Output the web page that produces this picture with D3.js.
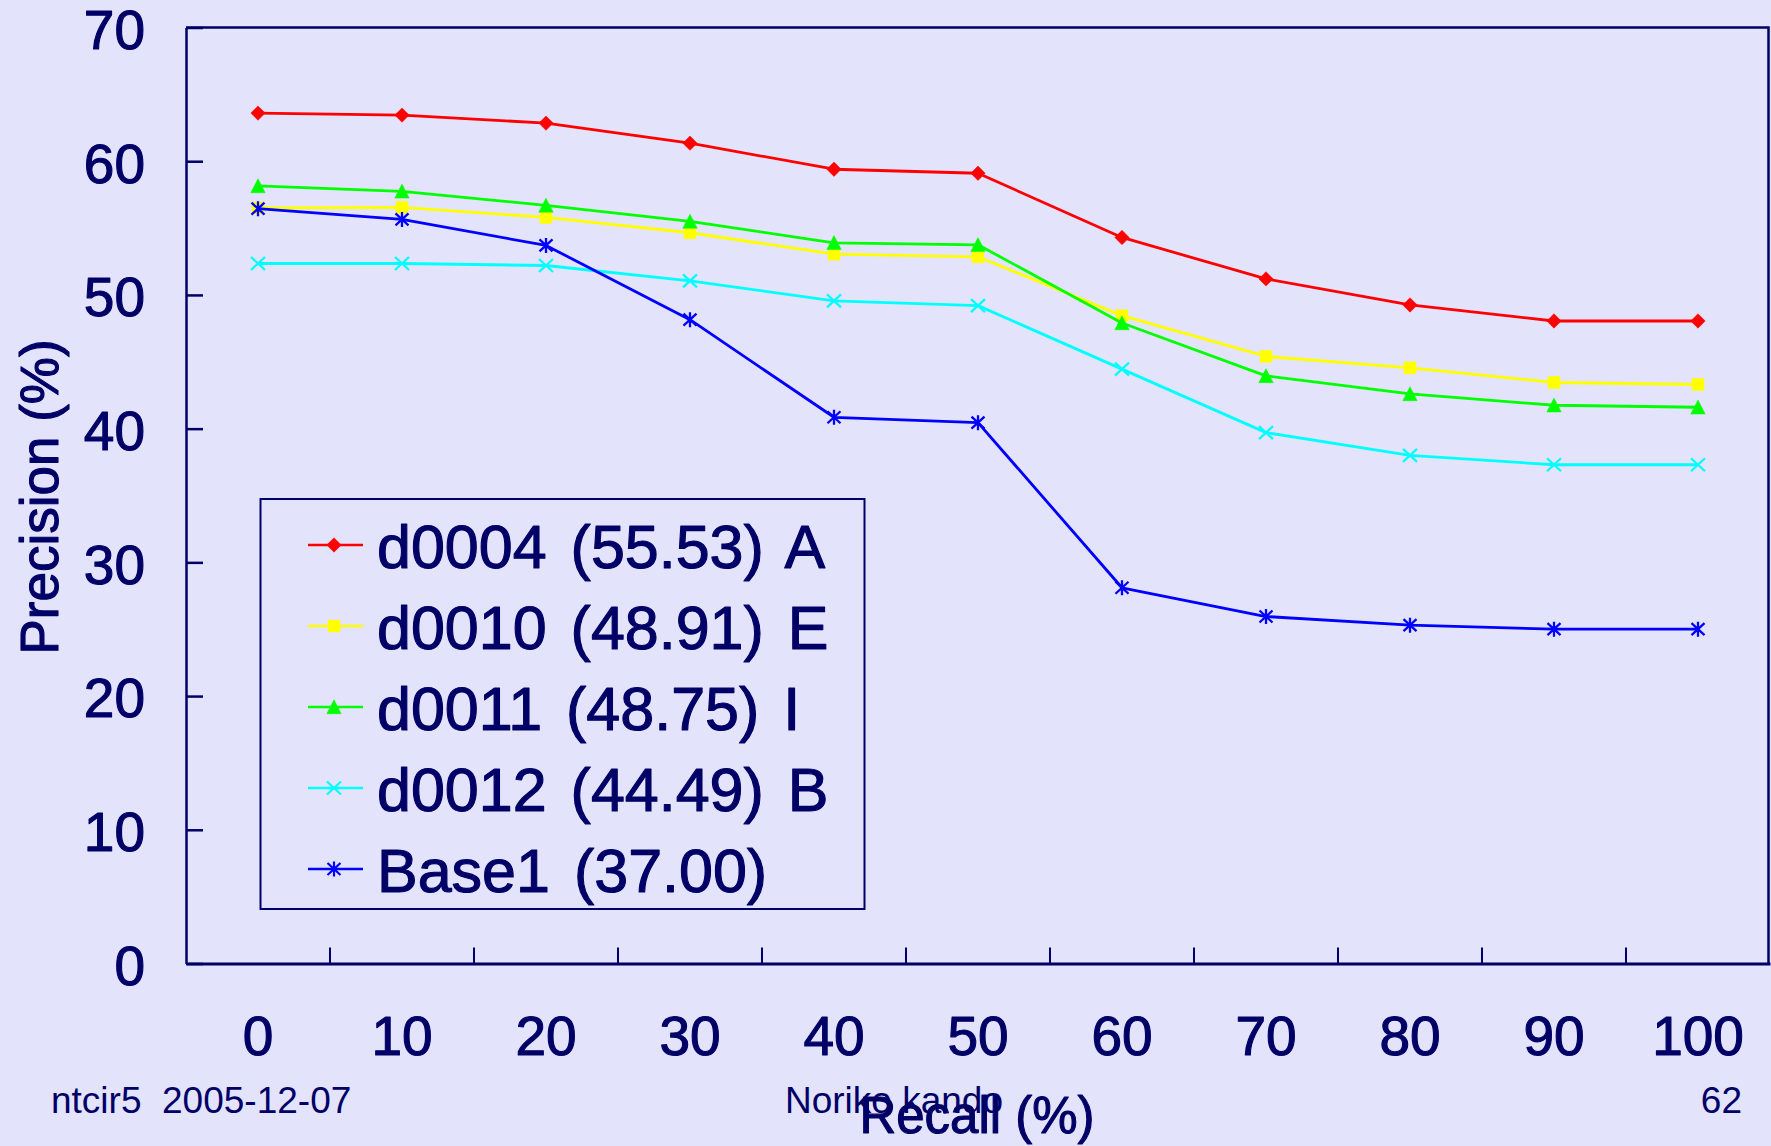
<!DOCTYPE html>
<html>
<head>
<meta charset="utf-8">
<script src="https://cdn.jsdelivr.net/npm/d3@7"></script>
<style>
  html, body { margin: 0; padding: 0; background: #E3E3FC; overflow: hidden; }
  svg { display: block; font-family: "Liberation Sans", Arial, sans-serif; }
</style>
</head>
<body>
<svg id="chart" width="1771" height="1146"></svg>
<script>
// Recall levels (category axis) and precision axis ticks
const recallLevels = [0, 10, 20, 30, 40, 50, 60, 70, 80, 90, 100];
const precisionTicks = [0, 10, 20, 30, 40, 50, 60, 70];

// Interpolated precision (%) at each recall level, one array per run
const d0004 = [63.6, 63.45, 62.85, 61.35, 59.4, 59.1, 54.3, 51.2, 49.25, 48.05, 48.05];
const d0010 = [56.5, 56.55, 55.8, 54.65, 53.05, 52.85, 48.45, 45.4, 44.55, 43.45, 43.3];
const d0011 = [58.15, 57.75, 56.7, 55.5, 53.9, 53.75, 47.9, 43.95, 42.6, 41.75, 41.6];
const d0012 = [52.35, 52.35, 52.2, 51.05, 49.55, 49.2, 44.45, 39.7, 38.0, 37.3, 37.3];
const base1 = [56.45, 55.65, 53.7, 48.15, 40.85, 40.45, 28.1, 25.95, 25.3, 25.0, 25.0];

// Run names, mean average precision and group tag shown in the legend
const runNames = ["d0004", "d0010", "d0011", "d0012", "Base1"];
const runScores = ["55.53", "48.91", "48.75", "44.49", "37.00"];
const runTags = ["A", "E", "I", "B", ""];

// Footer texts
const footerLeft = "ntcir5\u00a0\u00a02005-12-07";
const footerMid = "Noriko kando";
const footerRight = "62";

const seriesValues = [d0004, d0010, d0011, d0012, base1];

// Drawing styles
const ink = "#000066";
const runColors = ["#FF0000", "#FFFF00", "#00FF00", "#00FFFF", "#0000FF"];
const runMarkers = ["diamond", "square", "triangle", "times", "asterisk"];

const markerTypes = {
  diamond: { draw(c) { c.moveTo(0, -7.2); c.lineTo(7.2, 0); c.lineTo(0, 7.2); c.lineTo(-7.2, 0); c.closePath(); } },
  square: { draw(c) { c.rect(-6, -6, 12, 12); } },
  triangle: { draw(c) { c.moveTo(0, -7.2); c.lineTo(7.2, 6.8); c.lineTo(-7.2, 6.8); c.closePath(); } },
  times: { draw(c) { c.moveTo(-7, -6.5); c.lineTo(7, 6.5); c.moveTo(-7, 6.5); c.lineTo(7, -6.5); } },
  asterisk: { draw(c) { c.moveTo(-6.5, -6); c.lineTo(6.5, 6); c.moveTo(-6.5, 6); c.lineTo(6.5, -6); c.moveTo(0, -7.5); c.lineTo(0, 7.5); } }
};
const filledMarker = { diamond: true, square: true, triangle: true, times: false, asterisk: false };

const svg = d3.select("#chart");
const W = 1771, H = 1146;
svg.append("rect").attr("width", W).attr("height", H).attr("fill", "#E3E3FC");

const plot = { left: 186, right: 1770, top: 27.5, bottom: 963.5 };

const x = d3.scaleBand().domain(recallLevels).range([plot.left, plot.right]).padding(0);
const y = d3.scaleLinear().domain([0, 70]).range([plot.bottom, plot.top]);
const cx = d => x(d) + x.bandwidth() / 2;

// Heavier glyphs for the large chart texts
const heavy = sel => sel.attr("stroke", ink).attr("stroke-width", 1.1).attr("stroke-linejoin", "round");

// Plot area frame (top and right edges)
svg.append("path")
  .attr("d", `M${plot.left},${plot.top}H${plot.right - 1.5}V${plot.bottom}`)
  .attr("fill", "none").attr("stroke", ink).attr("stroke-width", 2.5);

// Y axis with inward ticks
const yAxis = svg.append("g")
  .attr("transform", `translate(${plot.left},0)`)
  .call(d3.axisLeft(y).tickValues(precisionTicks).tickSize(-17).tickPadding(41).tickSizeOuter(0));
yAxis.select(".domain").attr("stroke", ink).attr("stroke-width", 2.5);
yAxis.selectAll(".tick line").attr("stroke", ink).attr("stroke-width", 2.5);
yAxis.selectAll(".tick text")
  .attr("fill", ink).attr("font-size", 55).attr("font-family", "Liberation Sans, Arial, sans-serif")
  .attr("dy", "0.38em").call(heavy);

// X axis: labels centred in each category, ticks at the category boundaries
const xAxis = svg.append("g")
  .attr("transform", `translate(0,${plot.bottom})`)
  .call(d3.axisBottom(x).tickSize(0).tickSizeOuter(0));
xAxis.select(".domain").attr("stroke", ink).attr("stroke-width", 3);
xAxis.selectAll(".tick text")
  .attr("fill", ink).attr("font-size", 55).attr("font-family", "Liberation Sans, Arial, sans-serif")
  .attr("y", 1055 - plot.bottom).attr("dy", null).call(heavy);
svg.append("g").selectAll("line")
  .data(recallLevels.slice(1))
  .join("line")
  .attr("x1", d => x(d)).attr("x2", d => x(d))
  .attr("y1", plot.bottom).attr("y2", plot.bottom - 16)
  .attr("stroke", ink).attr("stroke-width", 2);

// Series lines and markers
const line = d3.line().x((v, i) => cx(recallLevels[i])).y(v => y(v));
seriesValues.forEach((vals, k) => {
  const g = svg.append("g");
  g.append("path").attr("d", line(vals))
    .attr("fill", "none").attr("stroke", runColors[k]).attr("stroke-width", 2.8)
    .attr("stroke-linejoin", "round");
  const sym = d3.symbol().type(markerTypes[runMarkers[k]]);
  g.selectAll("path.m").data(vals).join("path").attr("class", "m")
    .attr("d", sym)
    .attr("transform", (v, i) => `translate(${cx(recallLevels[i])},${y(v)})`)
    .attr("fill", filledMarker[runMarkers[k]] ? runColors[k] : "none")
    .attr("stroke", runColors[k])
    .attr("stroke-width", filledMarker[runMarkers[k]] ? 0.5 : 2.3);
});

// Legend
const legend = svg.append("g");
legend.append("rect")
  .attr("x", 260.5).attr("y", 499).attr("width", 604).attr("height", 410)
  .attr("fill", "#E3E3FC").attr("stroke", ink).attr("stroke-width", 2);
runNames.forEach((name, k) => {
  const ry = 545 + k * 81;
  legend.append("line").attr("x1", 308).attr("x2", 363).attr("y1", ry).attr("y2", ry)
    .attr("stroke", runColors[k]).attr("stroke-width", 2.5);
  legend.append("path").attr("d", d3.symbol().type(markerTypes[runMarkers[k]])())
    .attr("transform", `translate(334,${ry})`)
    .attr("fill", filledMarker[runMarkers[k]] ? runColors[k] : "none")
    .attr("stroke", runColors[k])
    .attr("stroke-width", filledMarker[runMarkers[k]] ? 0.5 : 2.2);
  const label = name + " (" + runScores[k] + ")" + (runTags[k] ? " " + runTags[k] : "");
  legend.append("text")
    .attr("x", 377).attr("y", ry + 22.5)
    .attr("fill", ink).attr("font-size", 61).style("word-spacing", "7px")
    .text(label).call(heavy);
});

// Axis titles
svg.append("text")
  .attr("transform", "translate(58,497) rotate(-90)")
  .attr("text-anchor", "middle").attr("fill", ink).attr("font-size", 53)
  .text("Precision (%)").call(heavy);

// Footer
svg.append("text").attr("x", 51).attr("y", 1113).attr("fill", ink).attr("font-size", 37).text(footerLeft);
svg.append("text").attr("x", 785).attr("y", 1113).attr("fill", ink).attr("font-size", 37).text(footerMid);
svg.append("text").attr("x", 1742).attr("y", 1113).attr("text-anchor", "end").attr("fill", ink).attr("font-size", 37).text(footerRight);

svg.append("text")
  .attr("x", 977).attr("y", 1133)
  .attr("text-anchor", "middle").attr("fill", ink).attr("font-size", 51)
  .text("Recall (%)").call(heavy);
</script>
</body>
</html>
